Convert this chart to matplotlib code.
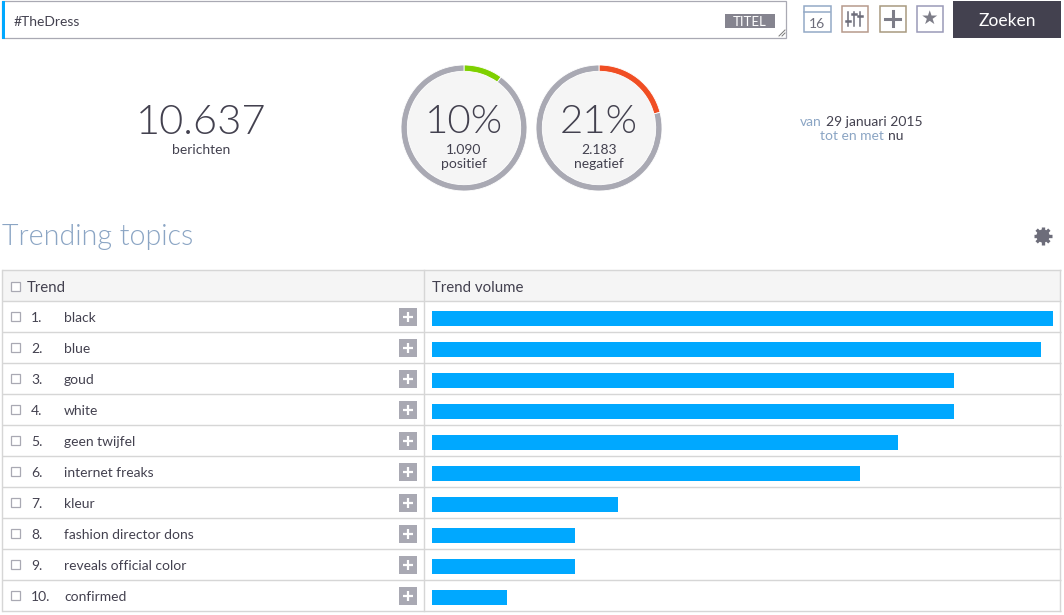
import matplotlib.pyplot as plt
from matplotlib.patches import Rectangle, Circle
import math

plt.rcParams["font.family"] = ["Lato", "DejaVu Sans"]

W, H = 1064, 615
DARK = "#43414f"
GREY = "#a9a9b3"
LINE = "#d6d6d6"
BLUE = "#8ba5c4"

trends = ["black", "blue", "goud", "white", "geen twijfel", "internet freaks", "kleur",
          "fashion director dons", "reveals official color", "confirmed"]
volumes = [100, 98, 84, 84, 75, 69, 30, 23, 23, 12]


class Dashboard:
    def __init__(self):
        self.fig = plt.figure(figsize=(W / 100, H / 100), dpi=100, facecolor="white")
        self.ax = self.fig.add_axes([0, 0, 1, 1])  # page in pixels
        self.ax.set_xlim(0, W)
        self.ax.set_ylim(H, 0)
        self.ax.axis("off")

    def rect(self, x0, y0, x1, y1, face="none", edge="none", lw=1.0):
        self.ax.add_patch(Rectangle((x0, y0), x1 - x0, y1 - y0, facecolor=face, edgecolor=edge, linewidth=lw))

    def search_bar(self):
        ax = self.ax
        self.rect(2, 1, 786.4, 38, edge=GREY, lw=0.9)
        self.rect(2, 1, 5, 39, face="#00a8ff")
        ax.text(14, 21.5, "#TheDress", fontsize=10, color=DARK, va="center")
        self.rect(725, 14, 775, 28, face="#85848f")
        ax.text(750, 22, "TITEL", fontsize=9.5, color="white", ha="center", va="center")
        ax.plot([779, 785], [36, 30], color="#777777", lw=0.7)
        ax.plot([782, 785], [36, 33], color="#777777", lw=0.7)

        # buttons
        self.rect(803.5, 5.5, 830.5, 31.5, edge="#93a9c6", lw=1.1)
        ax.plot([804, 830], [12, 12], color="#93a9c6", lw=1.1)
        ax.text(817, 23.5, "16", fontsize=10, color="#6d6d7a", ha="center", va="center")
        self.rect(841.5, 5.5, 867.5, 31.5, edge="#b79a8c", lw=1.1)
        for x, knob in zip([848, 854, 860], [21, 14, 16]):
            ax.plot([x, x], [12, 26], color="#6d6d7a", lw=1.1)
            ax.plot([x - 2, x + 2], [knob, knob], color="#6d6d7a", lw=1.8)
        self.rect(879.5, 5.5, 905.5, 31.5, edge="#a89a80", lw=1.1)
        ax.plot([885, 900], [18.5, 18.5], color="#7d7d88", lw=2.2)
        ax.plot([892.5, 892.5], [11, 26], color="#7d7d88", lw=2.2)
        self.rect(916.5, 5.5, 942.5, 31.5, edge="#9a9ab8", lw=1.1)
        ax.text(929.5, 18.5, "\u2605", fontsize=14, color="#7d7d88", ha="center", va="center", family="DejaVu Sans")
        self.rect(953, 1, 1061, 38, face=DARK)
        ax.text(1007, 21, "Zoeken", fontsize=12.5, color="white", ha="center", va="center")

    def donut(self, cx, share, count, word, color):
        r = 63
        ring = self.fig.add_axes([(cx - r) / W, 1 - (128 + r) / H, 2 * r / W, 2 * r / H])
        ring.add_patch(Circle((0, 0), 1.0, facecolor="#f5f5f5", edgecolor="none"))
        ring.pie([share, 100 - share], colors=[color, GREY], startangle=90, counterclock=False, radius=1.0,
                 wedgeprops=dict(width=0.1, edgecolor="white", linewidth=0.6))
        ring.set_xlim(-1, 1)
        ring.set_ylim(-1, 1)
        self.ax.set_zorder(2)
        self.ax.text(cx, 122, "%d%%" % share, fontsize=29, color=DARK, ha="center", va="center", weight=300)
        self.ax.text(cx, 150.5, count, fontsize=10, color=DARK, ha="center", va="center")
        self.ax.text(cx, 164, word, fontsize=10, color=DARK, ha="center", va="center")

    def gear(self, cx, cy):
        ax = self.ax
        for k in range(8):
            a = k * math.pi / 4
            ax.plot([cx, cx + 9 * math.cos(a)], [cy, cy + 9 * math.sin(a)], color="#6d6d7a", lw=2.4,
                    solid_capstyle="butt")
        ax.add_patch(Circle((cx, cy), 6.6, facecolor="#6d6d7a", edgecolor="none"))
        ax.add_patch(Circle((cx, cy), 3.2, facecolor="white", edgecolor="none"))

    def summary(self):
        ax = self.ax
        ax.text(201, 123, "10.637", fontsize=30, color=DARK, ha="center", va="center", weight=300)
        ax.text(201, 150, "berichten", fontsize=10, color=DARK, ha="center", va="center")
        self.donut(464, 10, "1.090", "positief", "#7ed000")
        self.donut(599, 21, "2.183", "negatief", "#f04e23")
        ax.text(800, 122, "van", fontsize=10, color=BLUE, va="center")
        ax.text(826, 122, "29 januari 2015", fontsize=10, color=DARK, va="center")
        ax.text(820, 136.5, "tot en met", fontsize=10, color=BLUE, va="center")
        ax.text(888, 136.5, "nu", fontsize=10, color=DARK, va="center")
        ax.text(2, 237, "Trending topics", fontsize=20.6, color=BLUE, va="center", weight=300)
        self.gear(1043, 236)

    def table(self):
        ax = self.ax
        self.rect(2, 270, 1061, 301, face="#f5f5f5")
        for i in range(len(trends) + 2):
            y = 269.6 + 31 * i
            ax.plot([2, 1061], [y, y], color=LINE, lw=1, solid_capstyle="butt")
        ax.plot([1.8, 1.8], [270, 611], color=LINE, lw=1)
        ax.plot([423.8, 423.8], [270, 611], color=LINE, lw=1)
        ax.plot([1059.8, 1059.8], [270, 611], color=LINE, lw=1)
        self.rect(10.5, 281.5, 19.5, 290.5, face="white", edge=GREY, lw=0.9)
        ax.text(27, 287.5, "Trend", fontsize=10.8, color=DARK, va="center")
        ax.text(432, 287.5, "Trend volume", fontsize=10.8, color=DARK, va="center")
        for i, trend in enumerate(trends):
            y = 317 + 31 * i
            self.rect(10.5, y - 5.5, 19.5, y + 3.5, face="white", edge=GREY, lw=0.9)
            ax.text(31, y + 1, "%d." % (i + 1), fontsize=10, color=DARK, va="center")
            ax.text(64, y + 1, trend, fontsize=10, color=DARK, va="center")
            self.rect(399, y - 9, 417, y + 9, face=GREY)
            ax.plot([403, 413], [y, y], color="white", lw=1.6, solid_capstyle="butt")
            ax.plot([408, 408], [y - 5, y + 5], color="white", lw=1.6, solid_capstyle="butt")

    def plot(self):
        self.search_bar()
        self.summary()
        self.table()
        bars = self.fig.add_axes([432 / W, 1 - 613 / H, 621 / W, 310 / H])
        bars.barh(range(len(volumes)), volumes, height=0.484, color="#00a8ff")
        bars.set_xlim(0, 100)
        bars.set_ylim(len(volumes) - 0.5, -0.5)
        bars.axis("off")
        bars.set_zorder(3)

    def save(self, path="out.png"):
        self.fig.savefig(path, dpi=100)

    def close(self):
        plt.close(self.fig)


dashboard = Dashboard()
dashboard.plot()
dashboard.save()
dashboard.close()
